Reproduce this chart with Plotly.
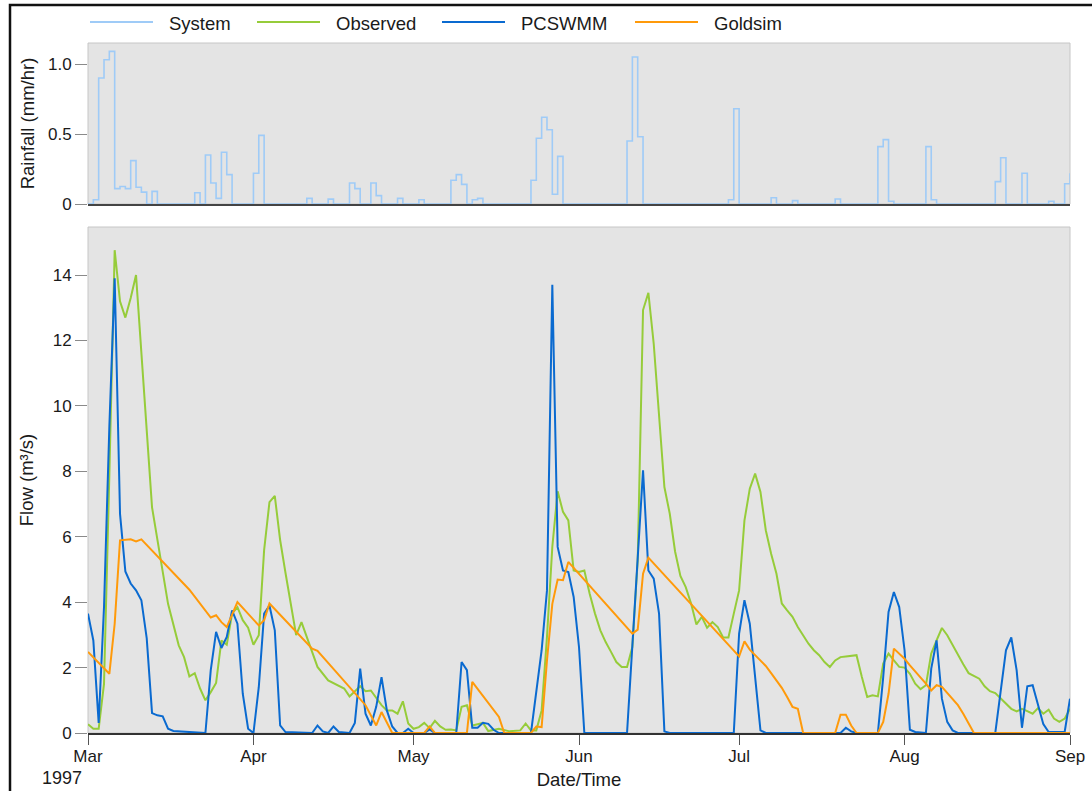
import pandas as pd
import plotly.graph_objects as go

BASE = pd.Timestamp("1997-03-01")

# ---- Rainfall (System), daily steps: day offset from 1 Mar 1997, mm/hr
rain_days = [0, 1, 2, 3, 4, 5, 6, 7, 8, 9, 10, 11, 12, 13, 20, 21, 22, 23, 24, 25, 26, 27,
             31, 32, 33, 41, 42, 45, 46, 49, 50, 51, 53, 54, 55, 58, 59, 62, 63, 68, 69, 70,
             71, 72, 73, 74, 83, 84, 85, 86, 87, 88, 89, 101, 102, 103, 104, 120, 121, 122,
             128, 129, 132, 133, 140, 141, 148, 149, 150, 151, 157, 158, 159, 170, 171, 172,
             175, 176, 180, 181, 183, 184]
rain_vals = [0, 0.03, 0.9, 1.03, 1.09, 0.11, 0.125, 0.11, 0.31, 0.12, 0.085, 0, 0.09, 0,
             0.08, 0, 0.35, 0.15, 0.04, 0.37, 0.21, 0, 0.22, 0.49, 0, 0.04, 0, 0.035, 0,
             0.15, 0.11, 0, 0.15, 0.06, 0, 0.04, 0, 0.03, 0, 0.17, 0.21, 0.14, 0, 0.03, 0.04,
             0, 0.17, 0.47, 0.62, 0.53, 0.07, 0.34, 0, 0.45, 1.05, 0.48, 0, 0.03, 0.68, 0,
             0.045, 0, 0.024, 0, 0.036, 0, 0.41, 0.46, 0.02, 0, 0.41, 0.03, 0, 0.16, 0.33, 0,
             0.22, 0, 0.02, 0, 0.145, 0.22]

# ---- Observed flow (m3/s)
obs_days = [0, 1, 2, 3, 4, 5, 6, 7, 8, 9, 12, 13, 14, 15, 17, 18, 19, 20, 21, 22, 23, 24,
            25, 26, 27, 28, 29, 30, 31, 32, 33, 34, 35, 36, 37, 39, 40, 43, 45, 48, 49, 51,
            52, 53, 55, 56, 57, 58, 59, 60, 61, 62, 63, 64, 65, 66, 67, 68, 69, 70, 71, 72,
            73, 74, 75, 76, 77, 79, 81, 82, 83, 84, 85, 86, 87, 88, 89, 90, 91, 92, 93, 94,
            95, 96, 97, 98, 99, 100, 101, 102, 103, 104, 105, 106, 107, 108, 109, 110, 111,
            112, 113, 114, 115, 116, 117, 118, 119, 120, 121, 122, 123, 124, 125, 126, 127,
            128, 129, 130, 131, 132, 133, 134, 135, 136, 137, 138, 139, 140, 141, 142, 143,
            144, 145, 146, 147, 148, 149, 150, 151, 152, 153, 154, 155, 156, 157, 158, 159,
            160, 161, 162, 163, 164, 165, 166, 167, 168, 169, 170, 171, 172, 173, 174, 175,
            176, 177, 178, 179, 180, 181, 182, 183, 184]
obs_vals = [0.27, 0.13, 0.13, 1.5, 7.9, 14.76, 13.2, 12.7, 13.3, 14.0, 6.9, 5.9, 4.87, 3.95,
            2.68, 2.32, 1.73, 1.83, 1.36, 1.0, 1.25, 1.53, 2.83, 2.7, 3.65, 3.85, 3.45, 3.22,
            2.7, 2.99, 5.59, 7.06, 7.25, 5.9, 4.9, 2.99, 3.39, 2.02, 1.61, 1.36, 1.12, 1.43,
            1.28, 1.30, 0.85, 0.69, 0.69, 0.59, 0.97, 0.29, 0.13, 0.18, 0.31, 0.15, 0.37, 0.2,
            0.1, 0.11, 0.08, 0.8, 0.85, 0.23, 0.27, 0.31, 0.06, 0.1, 0.13, 0.05, 0.08, 0.29,
            0.08, 0.08, 0.69, 2.94, 5.69, 7.39, 6.76, 6.5, 4.97, 4.92, 4.97, 4.26, 3.65, 3.14,
            2.78, 2.48, 2.17, 2.02, 2.02, 2.63, 5.28, 12.93, 13.46, 11.9, 9.77, 7.52, 6.71,
            5.55, 4.8, 4.46, 3.96, 3.32, 3.55, 3.22, 3.39, 3.24, 2.92, 2.92, 3.65, 4.36, 6.5,
            7.47, 7.93, 7.37, 6.2, 5.48, 4.87, 3.96, 3.75, 3.55, 3.24, 2.99, 2.73, 2.53, 2.38,
            2.17, 2.02, 2.22, 2.32, 2.34, 2.35, 2.38, 1.71, 1.1, 1.15, 1.12, 2.12, 2.43, 2.22,
            2.02, 2.0, 1.81, 1.51, 1.34, 1.46, 2.43, 2.83, 3.21, 2.99, 2.68, 2.38, 2.1, 1.83,
            1.74, 1.66, 1.43, 1.28, 1.22, 1.05, 0.9, 0.74, 0.66, 0.74, 0.67, 0.59, 0.76, 0.59,
            0.71, 0.44, 0.34, 0.44, 0.74]

# ---- PCSWMM flow (m3/s)
pcs_days = [0, 1, 2, 3, 4, 5, 6, 7, 8, 9, 10, 11, 12, 13, 14, 15, 16, 22, 23, 24, 25, 26,
            27, 28, 29, 30, 31, 32, 33, 34, 35, 36, 37, 42, 43, 44, 45, 46, 47, 49, 50, 51,
            52, 53, 54, 55, 56, 57, 58, 59, 60, 61, 63, 64, 65, 69, 70, 71, 72, 73, 74, 75,
            76, 77, 83, 84, 85, 86, 87, 88, 89, 90, 91, 92, 93, 101, 102, 103, 104, 105, 106,
            107, 108, 109, 121, 122, 123, 124, 125, 126, 127, 141, 142, 143, 144, 148, 149,
            150, 151, 152, 153, 154, 155, 157, 158, 159, 160, 161, 162, 163, 170, 171, 172,
            173, 174, 175, 176, 177, 178, 179, 180, 183, 184]
pcs_vals = [3.65, 2.83, 0.31, 3.85, 9.36, 13.9, 6.7, 4.94, 4.57, 4.36, 4.06, 2.9, 0.61, 0.54,
            0.51, 0.13, 0.06, 0, 1.92, 3.09, 2.6, 2.94, 3.75, 3.34, 1.2, 0.13, 0, 1.4, 3.65,
            3.9, 3.14, 0.23, 0.03, 0, 0.23, 0.05, 0, 0.2, 0.03, 0, 0.31, 1.97, 0.59, 0.23, 0.8,
            1.71, 0.69, 0.2, 0, 0, 0.13, 0, 0, 0.11, 0, 0, 2.17, 1.92, 0.16, 0.16, 0.31, 0.28,
            0.1, 0, 0, 1.3, 2.53, 4.36, 13.7, 5.69, 4.97, 4.92, 4.16, 2.63, 0, 0, 2.73, 5.28,
            8.03, 4.97, 4.72, 3.65, 0.05, 0, 0, 3.04, 4.06, 3.34, 1.71, 0.08, 0, 0, 0.16, 0.05,
            0, 0, 1.71, 3.7, 4.31, 3.85, 2.53, 0.1, 0.03, 0, 1.97, 2.83, 1.05, 0.34, 0.08, 0,
            0, 1.3, 2.53, 2.92, 1.92, 0.16, 1.43, 1.46, 0.85, 0.27, 0.03, 0.03, 1.05]

# ---- Goldsim flow (m3/s)
gold_days = [0, 4, 5, 6, 8, 9, 10, 19, 23, 24, 25, 26, 28, 32, 33, 34, 42, 43, 52, 54, 55,
             57, 63, 64, 65, 71, 72, 77, 78, 83, 84, 85, 86, 87, 88, 89, 90, 102, 103, 104,
             105, 122, 123, 124, 125, 126, 127, 128, 129, 130, 131, 132, 133, 134, 140, 141,
             142, 143, 144, 148, 149, 150, 151, 152, 153, 154, 155, 156, 157, 158, 159, 160,
             161, 162, 163, 164, 165, 166, 184]
gold_vals = [2.48, 1.81, 3.34, 5.89, 5.92, 5.86, 5.92, 4.38, 3.53, 3.6, 3.39, 3.24, 4.0, 3.29,
             3.45, 3.96, 2.58, 2.51, 0.85, 0.23, 0.64, 0, 0, 0.2, 0, 0, 1.56, 0.49, 0, 0, 0.2,
             0.18, 2.22, 3.95, 4.69, 4.67, 5.23, 3.04, 3.16, 4.87, 5.36, 2.34, 2.8, 2.55, 2.38,
             2.2, 2.05, 1.83, 1.61, 1.38, 1.1, 0.8, 0.74, 0, 0, 0.56, 0.56, 0.23, 0, 0, 0.34,
             1.2, 2.58, 2.43, 2.27, 2.07, 1.89, 1.69, 1.51, 1.3, 1.46, 1.41, 1.22, 1.05, 0.85,
             0.59, 0.29, 0, 0]

# ---- Series names / colours, axis ticks
series_names = ["System", "Observed", "PCSWMM", "Goldsim"]
series_colors = ["#9fcbf7", "#96cc3a", "#0a6ad0", "#ff9a0a"]
month_ticks = ["1997-03-01", "1997-04-01", "1997-05-01", "1997-06-01",
               "1997-07-01", "1997-08-01", "1997-09-01"]
month_labels = ["Mar", "Apr", "May", "Jun", "Jul", "Aug", "Sep"]
rain_ticks = [0, 0.5, 1.0]
rain_tick_labels = ["0", "0.5", "1.0"]
flow_ticks = [0, 2, 4, 6, 8, 10, 12, 14]


def to_dates(days):
    return [BASE + pd.Timedelta(days=d) for d in days]


FONT = "Liberation Sans, Arial, sans-serif"
TXT = "#1a1a1a"

# figure geometry (pixels)
W, H = 1092, 791
ML, MR, MT, MB = 88, 22, 43, 58
PW, PH = W - ML - MR, H - MT - MB


def px_x(p):
    return (p - ML) / PW


def px_y(p):
    return (H - MB - p) / PH


fig = go.Figure()
fig.add_trace(go.Scatter(x=to_dates(rain_days), y=rain_vals, name=series_names[0],
                         mode="lines", showlegend=False,
                         line=dict(color=series_colors[0], width=1.6, shape="hv"),
                         xaxis="x", yaxis="y"))
for nm, col, dd, vv in [(series_names[1], series_colors[1], obs_days, obs_vals),
                        (series_names[2], series_colors[2], pcs_days, pcs_vals),
                        (series_names[3], series_colors[3], gold_days, gold_vals)]:
    fig.add_trace(go.Scatter(x=to_dates(dd), y=vv, name=nm, mode="lines", showlegend=False,
                             line=dict(color=col, width=2), xaxis="x2", yaxis="y2"))

xrange = ["1997-03-01", "1997-09-01"]

# legend drawn as line samples + text, in the layout
legend_starts = [90, 257, 442, 635]
legend_shapes, legend_annots = [], []
for nm, col, x0 in zip(series_names, series_colors, legend_starts):
    legend_shapes.append(dict(type="line", xref="paper", yref="paper",
                              x0=px_x(x0), x1=px_x(x0 + 63), y0=px_y(22), y1=px_y(22),
                              line=dict(color=col, width=2)))
    legend_annots.append(dict(text=nm, xref="paper", yref="paper", x=px_x(x0 + 77),
                              y=px_y(23), xanchor="left", yanchor="middle",
                              showarrow=False, font=dict(size=18.5, color=TXT)))

fig.update_layout(
    width=W, height=H,
    margin=dict(l=ML, r=MR, t=MT, b=MB),
    paper_bgcolor="white", plot_bgcolor="#e4e4e4",
    font=dict(family=FONT, size=17, color=TXT),
    showlegend=False,
    xaxis=dict(domain=[0, 1], anchor="y", range=xrange, type="date", automargin=False,
               showticklabels=False, ticks="", showgrid=False, zeroline=False,
               showline=True, linecolor="#444", linewidth=1.5, matches="x2"),
    yaxis=dict(domain=[px_y(204), 1], anchor="x", range=[0, 1.15], automargin=False,
               tickvals=rain_ticks, ticktext=rain_tick_labels,
               ticks="outside", ticklen=12, tickcolor="#8a8a8a", tickwidth=1,
               showgrid=False, zeroline=False, showline=False,
               title=dict(text="Rainfall (mm/hr)", standoff=8, font=dict(size=18.5))),
    yaxis3=dict(overlaying="y", anchor="x", range=[0, 1.15], side="left",
                tickvals=rain_ticks, showticklabels=False, automargin=False,
                ticks="inside", ticklen=10, tickcolor="#8a8a8a", tickwidth=1,
                showgrid=False, zeroline=False, showline=False),
    xaxis2=dict(domain=[0, 1], anchor="y2", range=xrange, type="date", automargin=False,
                tickvals=month_ticks, ticktext=month_labels, ticklabelstandoff=-3,
                ticks="outside", ticklen=10, tickcolor="#555", tickwidth=1,
                showgrid=False, zeroline=False,
                showline=True, linecolor="#333", linewidth=1.5,
                title=dict(text="Date/Time", standoff=8, font=dict(size=18.5))),
    yaxis2=dict(domain=[0, px_y(227)], anchor="x2", range=[0, 15.47], automargin=False,
                tickvals=flow_ticks,
                ticks="outside", ticklen=12, tickcolor="#8a8a8a", tickwidth=1,
                showgrid=False, zeroline=False, showline=False,
                title=dict(text="Flow (m³/s)", standoff=14, font=dict(size=18.5))),
    yaxis4=dict(overlaying="y2", anchor="x2", range=[0, 15.47], side="left",
                tickvals=flow_ticks, showticklabels=False, automargin=False,
                ticks="inside", ticklen=10, tickcolor="#8a8a8a", tickwidth=1,
                showgrid=False, zeroline=False, showline=False),
    shapes=[
        dict(type="rect", xref="x domain", yref="y domain", x0=0, x1=1, y0=0, y1=1,
             line=dict(color="#c6c6c6", width=1), layer="below"),
        dict(type="rect", xref="x2 domain", yref="y2 domain", x0=0, x1=1, y0=0, y1=1,
             line=dict(color="#c6c6c6", width=1), layer="below"),
        dict(type="rect", xref="paper", yref="paper", x0=px_x(10), x1=1.3,
             y0=-0.3, y1=px_y(5), line=dict(color="#111", width=2.5)),
    ] + legend_shapes,
    annotations=[
        dict(text="1997", xref="x2", yref="paper", x="1997-03-01", y=px_y(778),
             xanchor="right", yanchor="middle", xshift=-4, showarrow=False,
             font=dict(size=18, color=TXT)),
    ] + legend_annots,
)

fig.write_html("out.html")
